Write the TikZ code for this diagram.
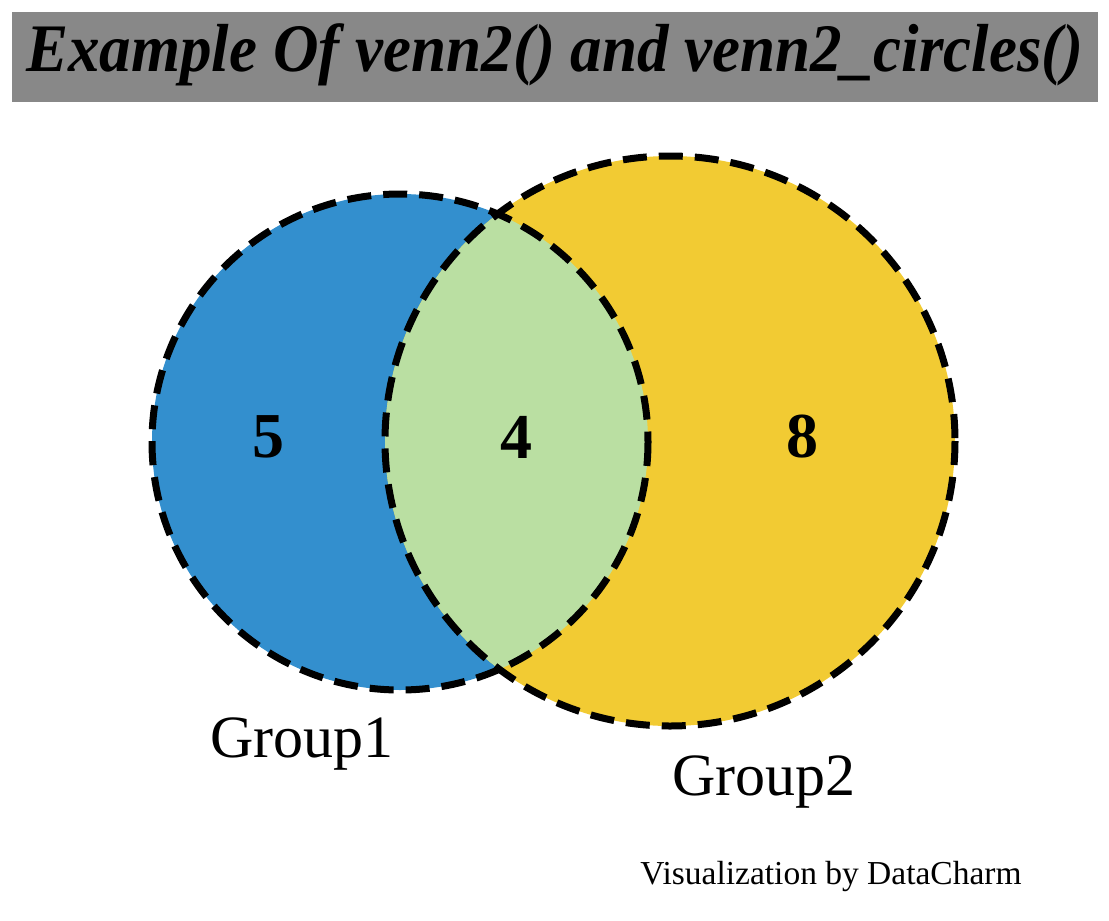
\documentclass[tikz,border=0pt]{standalone}
\usepackage{fontspec}
\setmainfont{Liberation Serif}
\definecolor{groupblue}{RGB}{51,143,206}
\definecolor{groupyellow}{RGB}{242,203,51}
\definecolor{lensgreen}{RGB}{186,223,162}
\definecolor{titlegray}{RGB}{136,136,136}
\begin{document}
\begin{tikzpicture}[x=1pt,y=-1pt]
\useasboundingbox (0,0) rectangle (1109,921);
\fill[titlegray] (12,12) rectangle (1098,102);
\fill[groupblue] (400,442) circle (248);
\fill[groupyellow] (670,441) circle (285);
\begin{scope}
\clip (400,442) circle (248);
\fill[lensgreen] (670,441) circle (285);
\end{scope}
\draw[line width=7,dash pattern=on 24 off 12] (400,442) circle (248);
\draw[line width=7,dash pattern=on 24 off 12] (670,441) circle (285);
\node (title) at (555,55) {\fontsize{66}{70}\selectfont\bfseries\itshape\scalebox{0.955}[1.03]{Example Of venn2() and venn2\_circles()}};
\node (n5) at (268,437) {\fontsize{64}{70}\selectfont\bfseries 5};
\node (n4) at (516,437) {\fontsize{64}{70}\selectfont\bfseries 4};
\node (n8) at (802,437) {\fontsize{64}{70}\selectfont\bfseries 8};
\node (g1) at (302,744) {\fontsize{60}{66}\selectfont Group1};
\node (g2) at (764,782) {\fontsize{60}{66}\selectfont Group2};
\node (credit) at (831,876) {\fontsize{33.5}{36}\selectfont Visualization by DataCharm};
\end{tikzpicture}
\end{document}
